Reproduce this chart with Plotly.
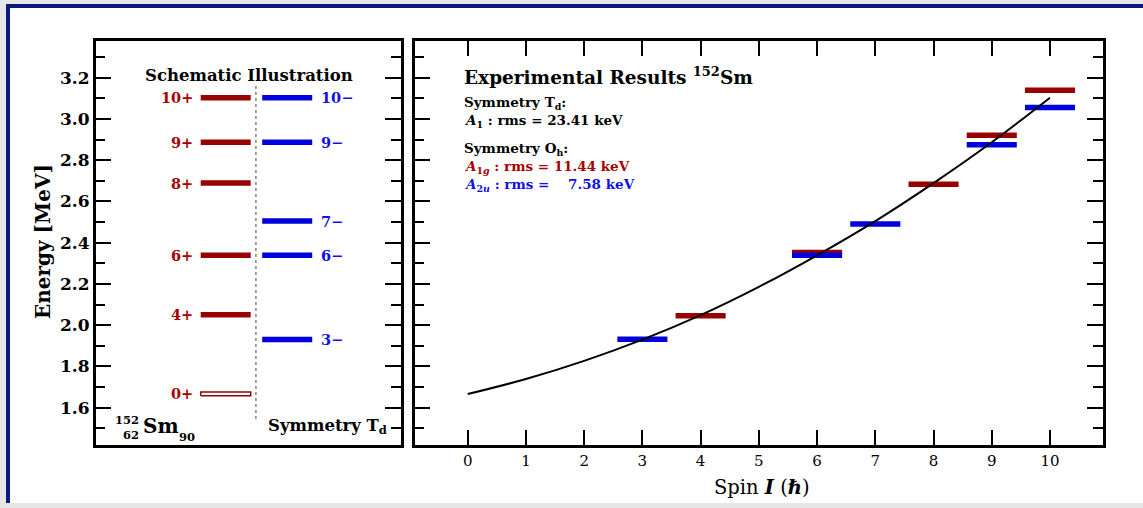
import plotly.graph_objects as go

W, H = 1143, 508

# ---------------- data ----------------
pos_labels = ["10+", "9+", "8+", "6+", "4+", "0+"]
pos_energy = [3.103, 2.887, 2.689, 2.339, 2.050, 1.667]
pos_hollow = [False, False, False, False, False, True]
neg_labels = ["10\u2212", "9\u2212", "7\u2212", "6\u2212", "3\u2212"]
neg_energy = [3.103, 2.887, 2.505, 2.339, 1.930]

a1g_spin = [4, 6, 8, 9, 10]
a1g_energy = [2.046, 2.353, 2.683, 2.921, 3.139]
a2u_spin = [3, 6, 7, 9, 10]
a2u_energy = [1.932, 2.339, 2.491, 2.875, 3.056]

fit_spin = [0, 1, 2, 3, 4, 5, 6, 7, 8, 9, 10]
fit_energy = [1.666, 1.739, 1.827, 1.930, 2.049, 2.186, 2.339, 2.505, 2.689, 2.887, 3.103]

y_ticks = [1.6, 1.8, 2.0, 2.2, 2.4, 2.6, 2.8, 3.0, 3.2]
x_ticks = [0, 1, 2, 3, 4, 5, 6, 7, 8, 9, 10]

# ---------------- style ----------------
RED = "#990000"
RED_T = "#a80000"
BLUE = "#0000dd"
BLUE_T = "#1010e8"
FONT = "DejaVu Serif"
YR = [1.419, 3.378]


def px(x):
    return x / W


def py(y):
    return 1 - y / H


fig = go.Figure()

# left panel levels
POS_X = (2.1, 3.1)
NEG_X = (3.33, 4.33)
xs, ys = [], []
for e, h in zip(pos_energy, pos_hollow):
    if not h:
        xs += [POS_X[0], POS_X[1], None]
        ys += [e, e, None]
fig.add_trace(go.Scatter(x=xs, y=ys, mode="lines", line=dict(color=RED, width=5.5),
                         xaxis="x", yaxis="y", hoverinfo="skip", showlegend=False))
for e, h in zip(pos_energy, pos_hollow):
    if h:
        d = 0.0095
        fig.add_trace(go.Scatter(x=[POS_X[0], POS_X[1], POS_X[1], POS_X[0], POS_X[0]],
                                 y=[e - d, e - d, e + d, e + d, e - d], mode="lines",
                                 line=dict(color=RED, width=1.5), xaxis="x", yaxis="y",
                                 hoverinfo="skip", showlegend=False))
xs, ys = [], []
for e in neg_energy:
    xs += [NEG_X[0], NEG_X[1], None]
    ys += [e, e, None]
fig.add_trace(go.Scatter(x=xs, y=ys, mode="lines", line=dict(color=BLUE, width=5.5),
                         xaxis="x", yaxis="y", hoverinfo="skip", showlegend=False))
# dotted separator
fig.add_trace(go.Scatter(x=[3.205, 3.205], y=[3.16, 1.531], mode="lines",
                         line=dict(color="#444444", width=1, dash="dot"),
                         xaxis="x", yaxis="y", hoverinfo="skip", showlegend=False))

# right panel bars
HW = 0.43
xs, ys = [], []
for s, e in zip(a1g_spin, a1g_energy):
    xs += [s - HW, s + HW, None]
    ys += [e, e, None]
fig.add_trace(go.Scatter(x=xs, y=ys, mode="lines", line=dict(color=RED, width=5.5),
                         xaxis="x2", yaxis="y2", hoverinfo="skip", showlegend=False))
xs, ys = [], []
for s, e in zip(a2u_spin, a2u_energy):
    xs += [s - HW, s + HW, None]
    ys += [e, e, None]
fig.add_trace(go.Scatter(x=xs, y=ys, mode="lines", line=dict(color=BLUE, width=5.5),
                         xaxis="x2", yaxis="y2", hoverinfo="skip", showlegend=False))
fig.add_trace(go.Scatter(x=fit_spin, y=fit_energy, mode="lines",
                         line=dict(color="black", width=2, shape="spline", smoothing=1.0),
                         xaxis="x2", yaxis="y2", hoverinfo="skip", showlegend=False))

ann = []
for lab, e in zip(pos_labels, pos_energy):
    ann.append(dict(x=1.99, y=e, xref="x", yref="y", text="<b>%s</b>" % lab, showarrow=False,
                    xanchor="right", yanchor="middle", font=dict(family=FONT, size=14.5, color=RED_T)))
for lab, e in zip(neg_labels, neg_energy):
    ann.append(dict(x=4.47, y=e, xref="x", yref="y", text="<b>%s</b>" % lab, showarrow=False,
                    xanchor="left", yanchor="middle", font=dict(family=FONT, size=14.5, color=BLUE_T)))


def txt(x, y, text, size, color="black", xanchor="left", angle=0):
    ann.append(dict(x=px(x), y=py(y), xref="paper", yref="paper", text=text, showarrow=False,
                    xanchor=xanchor, yanchor="middle", textangle=angle,
                    font=dict(family=FONT, size=size, color=color)))


txt(249, 76, "<b>Schematic Illustration</b>", 16.5, xanchor="center")
txt(141, 426, "<b>Sm</b>", 20)
txt(141, 420, "<b>152</b>", 11.5, xanchor="right")
txt(141, 435, "<b>62</b>", 11.5, xanchor="right")
txt(177, 437, "<b>90</b>", 11.5)
txt(266, 426, "<b>Symmetry T<sub>d</sub></b>", 16.5)

txt(462, 76, "<b>Experimental Results <sup>152</sup>Sm</b>", 18.5)
txt(462, 103, "<b>Symmetry T<sub>d</sub>:</b>", 13.5)
txt(462, 121, "<b><i>A</i><sub>1</sub> : rms = 23.41 keV</b>", 13.5)
txt(462, 149, "<b>Symmetry O<sub>h</sub>:</b>", 13.5)
txt(462, 167, "<b><i>A</i><sub>1<i>g</i></sub> : rms = 11.44 keV</b>", 13.5, color=RED_T)
txt(462, 185, "<b><i>A</i><sub>2<i>u</i></sub> : rms = \u2007 7.58 keV</b>", 13.5, color=BLUE_T)

txt(762, 487, "Spin <b><i>I</i></b> (<b><i>\u210f</i></b>)", 19.5, xanchor="center")
txt(43, 242, "<b>Energy [MeV]</b>", 20, xanchor="center", angle=-90)

# page frame
shapes = [
    dict(type="rect", xref="paper", yref="paper", x0=px(6), x1=px(1160), y0=py(503), y1=py(4),
         fillcolor="#0b1a7e", line=dict(width=0), layer="below"),
    dict(type="rect", xref="paper", yref="paper", x0=px(10), x1=px(1160), y0=py(503), y1=py(8),
         fillcolor="white", line=dict(width=0), layer="below"),
]

ydom = [py(445), py(41)]
common_y = dict(range=YR, domain=ydom, showline=True, linewidth=2.5, linecolor="black",
                mirror="ticks", ticks="inside", ticklen=16, tickwidth=2, tickcolor="black",
                tickvals=y_ticks, showgrid=False, zeroline=False,
                minor=dict(dtick=0.1, tick0=1.5, ticks="inside", ticklen=10, tickwidth=2,
                           tickcolor="black", showgrid=False))

fig.update_layout(
    width=W, height=H, margin=dict(l=0, r=0, t=0, b=0),
    paper_bgcolor="#e6e6e6", plot_bgcolor="rgba(0,0,0,0)",
    showlegend=False,
    xaxis=dict(domain=[px(95.7), px(400.7)], range=[0, 6.1], anchor="y", showline=True,
               linewidth=2.5, linecolor="black", mirror=True, ticks="", showticklabels=False,
               showgrid=False, zeroline=False, fixedrange=True),
    yaxis=dict(anchor="x", ticktext=["<b>%.1f</b>" % v for v in y_ticks],
               tickfont=dict(family=FONT, size=17, color="black"), **common_y),
    xaxis2=dict(domain=[px(414.7), px(1102.7)], range=[-0.91, 10.905], anchor="y2",
                showline=True, linewidth=2.5, linecolor="black", mirror="ticks",
                ticks="inside", ticklen=15, tickwidth=2, tickcolor="black",
                tickvals=x_ticks, tickfont=dict(family=FONT, size=15, color="black"),
                showgrid=False, zeroline=False),
    yaxis2=dict(anchor="x2", showticklabels=False, **common_y),
    annotations=ann,
    shapes=shapes,
)

fig.write_html("out.html")
